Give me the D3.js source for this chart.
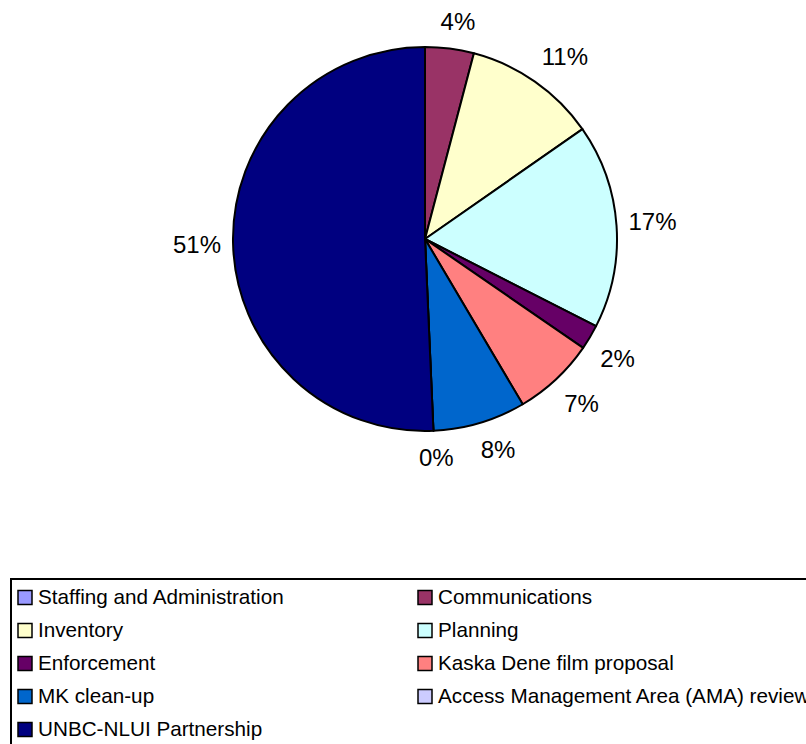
<!DOCTYPE html>
<html lang="en">
<head>
<meta charset="UTF-8">
<title>Pie</title>
<style>
  body { margin: 0; background: #fff; }
  svg { display: block; font-family: Arial, "Liberation Sans", sans-serif; }
</style>
</head>
<body>
<script src="https://d3js.org/d3.v7.min.js"></script>
<script>
  const categories = ["Staffing and Administration", "Communications", "Inventory", "Planning",
    "Enforcement", "Kaska Dene film proposal", "MK clean-up", "Access Management Area (AMA) review",
    "UNBC-NLUI Partnership"];
  const values = [0, 4.1, 11.2, 17.2, 2.1, 6.9, 7.8, 0, 50.7];
  const labels = [null, "4%", "11%", "17%", "2%", "7%", "8%", "0%", "51%"];
  const colors = ["#9999FF", "#993366", "#FFFFCC", "#CCFFFF", "#660066", "#FF8080", "#0066CC", "#CCCCFF", "#000080"];

  const w = 806, h = 744;
  const cx = 425, cy = 239, r = 192;

  const svg = d3.select("body").append("svg").attr("width", w).attr("height", h);

  const pie = d3.pie().sort(null).value(d => d)(values);
  const arc = d3.arc().innerRadius(0).outerRadius(r);

  const g = svg.append("g").attr("transform", `translate(${cx},${cy})`);
  g.selectAll("path").data(pie).enter().append("path")
    .attr("d", arc)
    .attr("fill", (d, i) => colors[i])
    .attr("stroke", "#000")
    .attr("stroke-width", 2)
    .attr("stroke-linejoin", "round");

  // labels: anchor just outside the rim, box pushed outward by its half size
  const R = r + 12, hh = 15, k = 3;
  const clamp = v => Math.max(-1, Math.min(1, v));
  g.selectAll("text").data(pie.filter((d, i) => labels[i] !== null)).enter().append("text")
    .attr("text-anchor", "middle")
    .attr("dy", "0.35em")
    .attr("font-size", 24)
    .text(d => labels[d.index])
    .each(function (d) {
      const a = (d.startAngle + d.endAngle) / 2;
      const s = Math.sin(a), c = Math.cos(a);
      const hw = this.getComputedTextLength() / 2;
      const x = R * s + hw * clamp(s * k);
      const y = -R * c - hh * clamp(c * k);
      d3.select(this).attr("x", x).attr("y", y);
    });

  // legend
  const lg = svg.append("g");
  lg.append("rect").attr("x", 11).attr("y", 579).attr("width", 820).attr("height", 200)
    .attr("fill", "#fff").attr("stroke", "#000").attr("stroke-width", 2);

  const item = lg.selectAll("g.item").data(categories).enter().append("g")
    .attr("transform", (d, i) => `translate(${i % 2 ? 418 : 18},${597 + Math.floor(i / 2) * 33})`);
  item.append("rect").attr("x", 0).attr("y", -6.5).attr("width", 14).attr("height", 14)
    .attr("fill", (d, i) => colors[i]).attr("stroke", "#000").attr("stroke-width", 1.5);
  item.append("text").attr("x", 20).attr("dy", "0.35em").attr("font-size", 20.7).text(d => d);
</script>
</body>
</html>
